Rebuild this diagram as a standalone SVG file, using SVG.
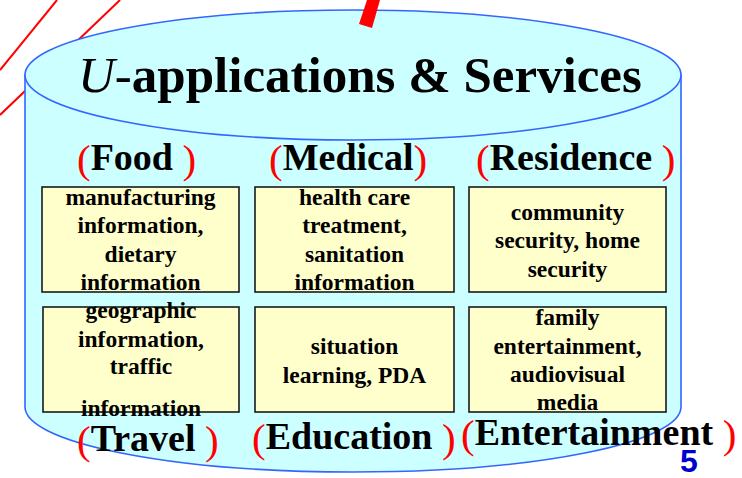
<svg xmlns="http://www.w3.org/2000/svg" width="742" height="478" viewBox="0 0 742 478">
  <style>
    .cyl { fill: #ccffff; stroke: #3366ff; stroke-width: 1.6; }
    .box { fill: #ffffcc; stroke: #1a1a1a; stroke-width: 1.6; }
    .title { font-family: "Liberation Serif", "Times New Roman", serif; font-weight: bold; font-size: 51px; fill: #000; }
    .cat { font-family: "Liberation Serif", "Times New Roman", serif; font-weight: bold; font-size: 38px; fill: #000; }
    .par { fill: #ff0000; font-weight: normal; font-size: 41px; }
    .item { font-family: "Liberation Serif", "Times New Roman", serif; font-weight: bold; font-size: 23.5px; fill: #000; text-anchor: middle; }
    .deco { stroke: #ff0000; stroke-width: 2; fill: none; }
  </style>

  <!-- decorative red strokes behind the cylinder -->
  <line class="deco" x1="57" y1="0" x2="0" y2="70"/>
  <line class="deco" x1="120" y1="0" x2="0" y2="115"/>

  <!-- cylinder body and top -->
  <g id="cylinder">
    <path class="cyl" d="M25,75 V407 A328,65 0 0 0 681,407 V75 Z"/>
    <ellipse class="cyl" cx="353" cy="75" rx="328" ry="65"/>
  </g>

  <polygon points="367,0 380,0 372,28 359,24" fill="#ff0000"/>

  <g id="title">
    <text class="title" x="78" y="92"><tspan font-style="italic" font-weight="normal">U-</tspan>applications &amp; Services</text>
  </g>

  <!-- category headings -->
  <g id="cat-food"><text class="cat" x="77" y="170"><tspan class="par" baseline-shift="-3">(</tspan>Food <tspan class="par" baseline-shift="-3">)</tspan></text></g>
  <g id="cat-medical"><text class="cat" x="269" y="170"><tspan class="par" baseline-shift="-3">(</tspan>Medical<tspan class="par" baseline-shift="-3">)</tspan></text></g>
  <g id="cat-residence"><text class="cat" x="476" y="170"><tspan class="par" baseline-shift="-3">(</tspan>Residence <tspan class="par" baseline-shift="-3">)</tspan></text></g>
  <g id="cat-travel"><text class="cat" x="77" y="451"><tspan class="par" baseline-shift="-3">(</tspan>Travel <tspan class="par" baseline-shift="-3">)</tspan></text></g>
  <g id="cat-education"><text class="cat" x="252" y="449"><tspan class="par" baseline-shift="-3">(</tspan>Education <tspan class="par" baseline-shift="-3">)</tspan></text></g>
  <g id="cat-entertainment"><text class="cat" x="461" y="445"><tspan class="par" baseline-shift="-3">(</tspan>Entertainment <tspan class="par" baseline-shift="-3">)</tspan></text></g>

  <!-- service boxes -->
  <g id="box-food">
    <rect class="box" x="42" y="187" width="197" height="105"/>
    <text class="item" x="140.5" y="205">manufacturing</text>
    <text class="item" x="140.5" y="233">information,</text>
    <text class="item" x="140.5" y="262">dietary</text>
    <text class="item" x="140.5" y="290">information</text>
  </g>
  <g id="box-medical">
    <rect class="box" x="255" y="187" width="199" height="105"/>
    <text class="item" x="354.5" y="205">health care</text>
    <text class="item" x="354.5" y="233">treatment,</text>
    <text class="item" x="354.5" y="262">sanitation</text>
    <text class="item" x="354.5" y="290">information</text>
  </g>
  <g id="box-residence">
    <rect class="box" x="469" y="187" width="197" height="105"/>
    <text class="item" x="567.5" y="220">community</text>
    <text class="item" x="567.5" y="248">security, home</text>
    <text class="item" x="567.5" y="277">security</text>
  </g>
  <g id="box-travel">
    <rect class="box" x="43" y="307" width="196" height="105"/>
    <text class="item" x="141" y="318">geographic</text>
    <text class="item" x="141" y="347">information,</text>
    <text class="item" x="141" y="374">traffic</text>
    <text class="item" x="141" y="416">information</text>
  </g>
  <g id="box-education">
    <rect class="box" x="255" y="307" width="199" height="105"/>
    <text class="item" x="354.5" y="354">situation</text>
    <text class="item" x="354.5" y="383">learning, PDA</text>
  </g>
  <g id="box-entertainment">
    <rect class="box" x="469" y="307" width="197" height="105"/>
    <text class="item" x="567.5" y="325">family</text>
    <text class="item" x="567.5" y="354">entertainment,</text>
    <text class="item" x="567.5" y="382">audiovisual</text>
    <text class="item" x="567.5" y="410">media</text>
  </g>

  <text x="680" y="472" font-family="'Liberation Sans', Arial, sans-serif" font-weight="bold" font-size="32" fill="#0000cc">5</text>
</svg>
